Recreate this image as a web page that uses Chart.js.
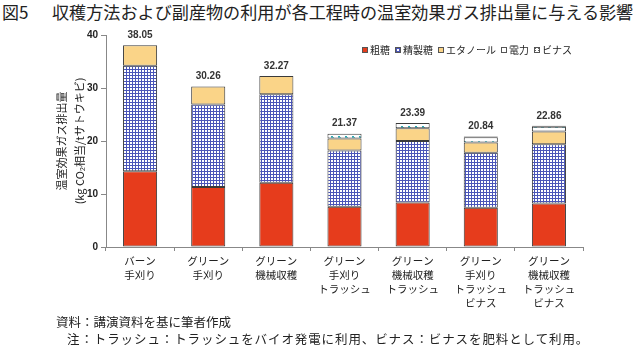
<!DOCTYPE html>
<html>
<head>
<meta charset="utf-8">
<script src="https://cdn.jsdelivr.net/npm/chart.js@4"></script>
<style>
  html, body { margin: 0; padding: 0; background: #fff; }
  body { width: 640px; height: 347px; position: relative; overflow: hidden; font-family: "Noto Sans CJK JP", sans-serif; color: #222; }
  #Chart { position: absolute; left: 0; top: 0; }
  .title { position: absolute; top: 2px; font-size: 17px; line-height: 20px; white-space: nowrap; }
  .note { position: absolute; font-size: 12.5px; line-height: 16px; white-space: nowrap; }
</style>
</head>
<body>
<div class="title" style="left:2px;">図5</div>
<div class="title" id="mainTitle" style="left:52px;">収穫方法および副産物の利用が各工程時の温室効果ガス排出量に与える影響</div>
<canvas id="Chart" width="640" height="347"></canvas>
<div class="note" style="left:56px; top:314px;">資料：講演資料を基に筆者作成</div>
<div class="note" style="left:67px; top:331px; letter-spacing:0.9px;">注：トラッシュ：トラッシュをバイオ発電に利用、ビナス：ビナスを肥料として利用。</div>
<script>
const categories = [
    ["バーン", "手刈り"],
    ["グリーン", "手刈り"],
    ["グリーン", "機械収穫"],
    ["グリーン", "手刈り", "トラッシュ"],
    ["グリーン", "機械収穫", "トラッシュ"],
    ["グリーン", "手刈り", "トラッシュ", "ビナス"],
    ["グリーン", "機械収穫", "トラッシュ", "ビナス"]
];
const seriesNames = ["粗糖", "精製糖", "エタノール", "電力", "ビナス"];
const rawSugar = [14.3, 11.3, 12.1, 7.6, 8.4, 7.4, 8.2];
const refinedSugar = [19.9, 15.6, 16.7, 10.6, 11.6, 10.4, 11.2];
const ethanol = [3.85, 3.36, 3.47, 2.25, 2.4, 1.9, 2.4];
const power = [null, null, null, 0.92, 0.99, 1.0, 0.9];
const vinasse = [null, null, null, null, null, 0.14, 0.16];
const totals = [38.05, 30.26, 32.27, 21.37, 23.39, 20.84, 22.86];
const yTicks = [0, 10, 20, 30, 40];

// stretch the title so it runs to the right edge like the original
const $title = document.getElementById("mainTitle");
const titleWidth = $title.getBoundingClientRect().width;
if (titleWidth > 0) {
    $title.style.fontSize = (17 * 582 / titleWidth).toFixed(2) + "px";
}

function makePattern(w, h, draw) {
    const c = document.createElement("canvas");
    c.width = w;
    c.height = h;
    const g = c.getContext("2d");
    g.fillStyle = "#fff";
    g.fillRect(0, 0, w, h);
    draw(g);
    return g.createPattern(c, "repeat");
}

const gridBlue = makePattern(3, 3, (g) => {
    g.fillStyle = "#4a55b8";
    g.fillRect(0, 0, 3, 1);
    g.fillRect(0, 0, 1, 3);
});
const tealDots = makePattern(7, 5, (g) => {
    g.fillStyle = "#29aab5";
    g.fillRect(2, 1, 2, 2);
    g.fillRect(4, 2, 1, 1);
});
const greyDots = makePattern(3, 2, (g) => {
    g.fillStyle = "#666";
    g.fillRect(1, 0, 1, 1);
});

const fills = ["#e63c1c", gridBlue, "#fad488", tealDots, greyDots];
const values = [rawSugar, refinedSugar, ethanol, power, vinasse];

const ctx = document.getElementById("Chart");
const data = {
    labels: categories,
    datasets: seriesNames.map((name, i) => ({
        label: name,
        data: values[i],
        backgroundColor: fills[i],
        borderColor: "#3a3a3a",
        borderWidth: 1,
        borderSkipped: false,
        barPercentage: 0.5,
        categoryPercentage: 1
    }))
};

// totals above each bar
const totalLabels = {
    id: "totalLabels",
    afterDatasetsDraw(chart) {
        const c = chart.ctx;
        const y = chart.scales.y;
        const meta = chart.getDatasetMeta(0);
        c.save();
        c.font = "bold 10px 'Liberation Sans', Arial, sans-serif";
        c.fillStyle = "#333";
        c.textAlign = "center";
        c.textBaseline = "middle";
        totals.forEach((t, i) => {
            c.fillText(t.toFixed(2), meta.data[i].x, y.getPixelForValue(t) - 10);
        });
        c.restore();
    }
};

// legend inside the plot, top right
const innerLegend = {
    id: "innerLegend",
    afterDraw(chart) {
        const c = chart.ctx;
        c.save();
        c.font = "10px 'Noto Sans CJK JP', sans-serif";
        c.textBaseline = "middle";
        let x = 362;
        const y = 50;
        chart.data.datasets.forEach((ds) => {
            c.fillStyle = ds.backgroundColor;
            c.fillRect(x, y - 3, 6, 6);
            c.strokeStyle = "#555";
            c.lineWidth = 1;
            c.strokeRect(x + 0.5, y - 2.5, 5, 5);
            c.fillStyle = "#222";
            c.fillText(ds.label, x + 8, y);
            x += 8 + c.measureText(ds.label).width + 5;
        });
        c.restore();
    }
};

const config = {
    type: "bar",
    data: data,
    options: {
        responsive: false,
        animation: false,
        layout: { padding: { top: 35, right: 57, left: 0, bottom: 0 } },
        plugins: {
            legend: { display: false },
            tooltip: { enabled: false }
        },
        scales: {
            x: {
                stacked: true,
                afterFit: (s) => { s.height = 100; },
                grid: { drawOnChartArea: false, tickLength: 4, color: "#888" },
                border: { color: "#888" },
                ticks: {
                    color: "#222",
                    padding: 3,
                    maxRotation: 0,
                    autoSkip: false,
                    font: { family: "'Noto Sans CJK JP', sans-serif", size: 10.5, lineHeight: 1.33 }
                }
            },
            y: {
                stacked: true,
                min: 0,
                max: 40,
                afterFit: (s) => { s.width = 106; },
                afterBuildTicks: (s) => { s.ticks = yTicks.map((v) => ({ value: v })); },
                grid: { drawOnChartArea: false, tickLength: 5, color: "#888" },
                border: { color: "#888" },
                ticks: {
                    color: "#222",
                    padding: 3,
                    font: { family: "'Liberation Sans', Arial, sans-serif", size: 10, weight: "bold" }
                },
                title: {
                    display: true,
                    text: ["温室効果ガス排出量", "(kg CO₂相当/tサトウキビ)"],
                    color: "#222",
                    padding: { top: 53, bottom: 0 },
                    font: { family: "'Noto Sans CJK JP', sans-serif", size: 11, lineHeight: 1.6 }
                }
            }
        }
    },
    plugins: [totalLabels, innerLegend]
};

new Chart(ctx, config);
</script>
</body>
</html>
